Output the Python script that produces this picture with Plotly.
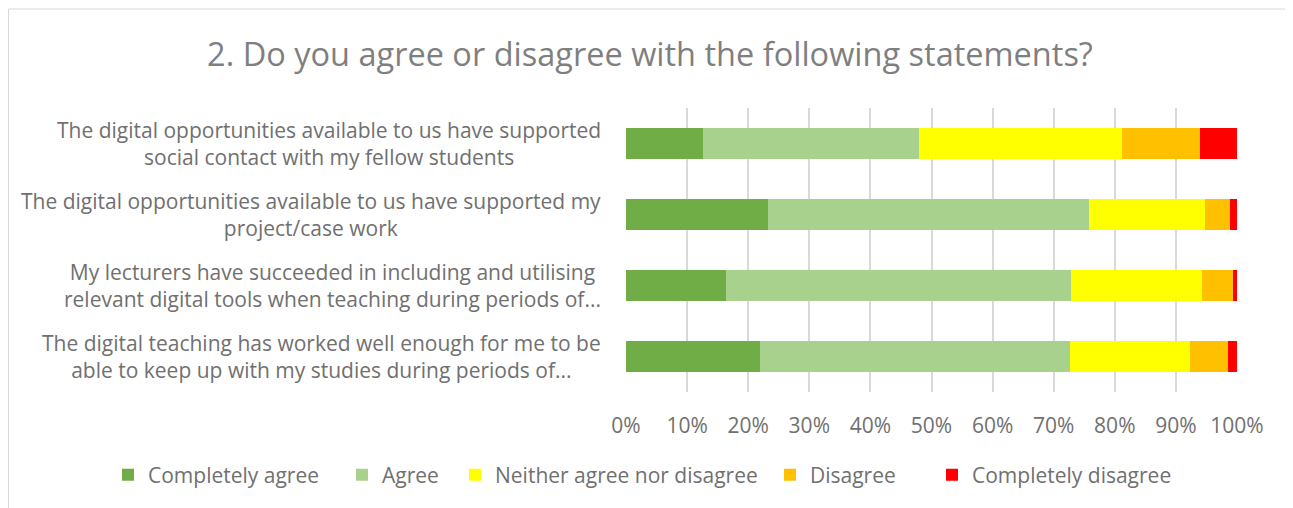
import plotly.graph_objects as go

statements = [
    "The digital opportunities available to us have supported<br>social contact with my fellow students",
    "The digital opportunities available to us have supported my<br>project/case work",
    "My lecturers have succeeded in including and utilising<br>relevant digital tools when teaching during periods of...",
    "The digital teaching has worked well enough for me to be<br>able to keep up with my studies during periods of...",
]
series_names = ["Completely agree", "Agree", "Neither agree nor disagree", "Disagree", "Completely disagree"]
completely_agree = [12.6, 23.2, 16.4, 22.0]
agree = [35.4, 52.6, 56.5, 50.6]
neither = [33.1, 19.0, 21.3, 19.7]
disagree = [12.8, 4.1, 5.1, 6.2]
completely_disagree = [6.1, 1.1, 0.7, 1.5]
tick_values = [0, 10, 20, 30, 40, 50, 60, 70, 80, 90, 100]
tick_labels = ["0%", "10%", "20%", "30%", "40%", "50%", "60%", "70%", "80%", "90%", "100%"]

colors = ["#70AD47", "#A9D18E", "#FFFF00", "#FFC000", "#FF0000"]
series_values = [completely_agree, agree, neither, disagree, completely_disagree]

FONT = "Open Sans"
TXT = "#707070"

W, H = 1285, 500
L, PW = 618, 611
T, PH = 100, 284

# left pixel of each legend entry (figure coordinates)
legend_left_px = [100, 334, 447, 762, 924]
legend_ids = ["legend", "legend2", "legend3", "legend4", "legend5"]

fig = go.Figure()
for name, vals, col, lid in zip(series_names, series_values, colors, legend_ids):
    fig.add_trace(go.Bar(
        y=statements, x=vals, name=name, orientation="h",
        marker=dict(color=col, line=dict(width=0)),
        width=0.44, legend=lid,
    ))

for s in statements:
    fig.add_annotation(
        x=0, xref="paper", xshift=-23, xanchor="right",
        y=s, yref="y", yanchor="middle",
        text=s, align="center", showarrow=False,
        font=dict(family=FONT, size=21, color=TXT),
    )

# chart area frame
fig.add_shape(type="rect", xref="paper", yref="paper",
              x0=(0.5 - L) / PW, x1=(1284 - L) / PW,
              y0=(T + PH - 520) / PH, y1=(T + PH - 1) / PH,
              line=dict(color="#d9d9d9", width=1), fillcolor="rgba(0,0,0,0)", layer="below")

legend_layout = {}
for lid, px in zip(legend_ids, legend_left_px):
    legend_layout[lid] = dict(
        orientation="h", x=(px - L) / PW, xanchor="left",
        y=-(467 - T - PH) / PH, yanchor="middle",
        font=dict(family=FONT, size=21, color=TXT), bgcolor="rgba(0,0,0,0)",
    )

fig.update_layout(
    width=W, height=H,
    margin=dict(l=L, r=W - L - PW, t=T, b=H - T - PH),
    paper_bgcolor="white", plot_bgcolor="white",
    barmode="stack",
    title=dict(text="2. Do you agree or disagree with the following statements?",
               x=642 / W, xanchor="center", y=1 - 47 / H, yanchor="middle", yref="container",
               font=dict(family=FONT, size=32.5, color="#7f7f7f")),
    xaxis=dict(range=[0, 100], tickvals=tick_values, ticktext=tick_labels,
               showgrid=True, gridcolor="#d9d9d9", gridwidth=1.5, zeroline=False,
               showline=False, ticks="outside", ticklen=15, tickcolor="rgba(0,0,0,0)",
               tickfont=dict(family=FONT, size=21, color=TXT)),
    yaxis=dict(autorange="reversed", showticklabels=False, showgrid=False, zeroline=False,
               showline=False),
    showlegend=True,
    **legend_layout,
)

fig.write_html("out.html")
